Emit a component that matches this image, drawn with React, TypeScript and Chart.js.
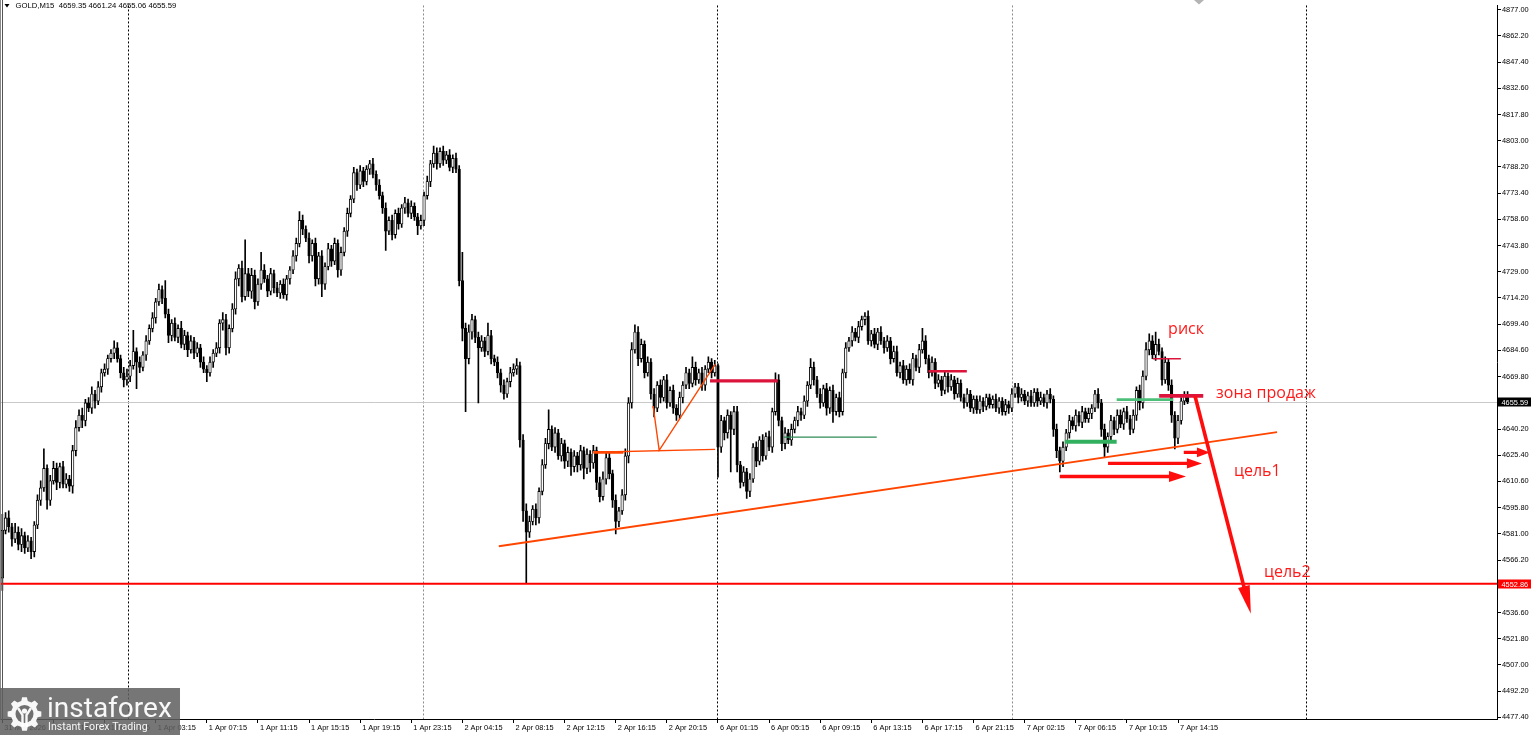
import { useEffect, useRef } from "react";
import { Chart, registerables } from "chart.js";

Chart.register(...registerables);

// ---------------- DATA ----------------
const SYMBOL_HEADER = "GOLD,M15  4659.35 4661.24 4655.06 4655.59";
const FIRST_OPEN = 4556;

// close of every M15 bar
const closes: number[] = [
  4583, 4590, 4585, 4578, 4582, 4575, 4580, 4573, 4577, 4571,
  4586, 4600, 4607, 4618, 4600, 4611, 4618, 4610, 4619, 4609,
  4612, 4608, 4628, 4641, 4648, 4645, 4655, 4652, 4660, 4656,
  4664, 4672, 4674, 4680, 4683, 4686, 4680, 4672, 4668, 4670,
  4676, 4684, 4678, 4675, 4682, 4690, 4697, 4703, 4712, 4719,
  4714, 4705, 4693, 4700, 4692, 4697, 4688, 4693, 4685, 4690,
  4683, 4686, 4678, 4674, 4672, 4678, 4683, 4686, 4700, 4702,
  4686, 4697, 4708, 4725, 4731, 4715, 4728, 4718, 4727, 4712,
  4722, 4730, 4725, 4718, 4728, 4720, 4717, 4722, 4716, 4725,
  4730, 4738, 4745, 4758, 4753, 4748, 4738, 4745, 4725, 4738,
  4722, 4732, 4742, 4735, 4745, 4730, 4740, 4752, 4762, 4770,
  4785, 4778, 4786, 4780, 4787, 4790, 4784, 4778, 4772, 4765,
  4752, 4758, 4750, 4762, 4756, 4765, 4768, 4762, 4766, 4760,
  4755, 4758, 4772, 4780, 4790, 4796, 4790, 4797, 4792, 4795,
  4788, 4793, 4787, 4724, 4697, 4680, 4695, 4702, 4692, 4686,
  4690, 4684, 4693, 4680, 4678, 4672, 4665, 4660, 4667, 4672,
  4674, 4676, 4634, 4594, 4582, 4588, 4595, 4590, 4605, 4620,
  4632, 4640, 4630, 4638, 4625, 4632, 4622, 4627, 4619, 4625,
  4620, 4628, 4618, 4626, 4621, 4628, 4610, 4602, 4612, 4624,
  4615, 4600, 4588, 4594, 4603, 4625, 4655, 4685, 4695, 4680,
  4688, 4672, 4678, 4660, 4652, 4665, 4658, 4668, 4655, 4662,
  4652, 4648, 4658, 4665, 4672, 4666, 4675, 4668, 4672, 4665,
  4674, 4678, 4672, 4676, 4630, 4645, 4638, 4648, 4640, 4650,
  4620, 4610, 4616, 4605, 4612, 4630, 4622, 4634, 4625, 4636,
  4630, 4650, 4668, 4645, 4632, 4638, 4634, 4640, 4645, 4650,
  4648, 4656, 4665, 4675, 4668, 4660, 4655, 4663, 4652, 4662,
  4650, 4658, 4650, 4672, 4686, 4690, 4695, 4692, 4698, 4702,
  4704, 4690, 4694, 4688, 4695, 4690, 4686, 4690, 4680, 4684,
  4672, 4676, 4668, 4674, 4668, 4680, 4675, 4685, 4690, 4680,
  4672, 4678, 4666, 4668, 4662, 4670, 4664, 4668, 4660, 4666,
  4658, 4655, 4660, 4652, 4657, 4651, 4656, 4653, 4658, 4654,
  4657, 4652, 4656, 4650, 4654, 4652, 4660, 4664, 4658, 4660,
  4656, 4659, 4655, 4661, 4656, 4658, 4655, 4660, 4657, 4640,
  4628, 4622, 4630, 4638, 4645, 4642, 4648, 4644, 4650, 4646,
  4649, 4652, 4660, 4655, 4640, 4630, 4636, 4645, 4640, 4648,
  4643, 4650, 4646, 4640, 4648, 4662, 4655, 4670, 4685, 4690,
  4682, 4688, 4684, 4668, 4678, 4665, 4648, 4635, 4645, 4656,
  4659.35, 4655.59,
];

// upper / lower wick length of each bar in dollars (base-36 digit per bar)
const upperWicks = [
  "9342534232", "234b234323", "3234342342", "3232243234", "3c23232323",
  "2a32324323", "2323232324", "323424j343", "3a32323232", "2335323232",
  "3232323232", "3232223232", "3232323232", "2323243232", "3232g34323",
  "3273232323", "3423432323", "3b23232323", "2323232343", "3232343443",
  "3232323232", "3232326323", "2323132323", "3232323232", "3243232323",
  "2325323232", "3232323232", "2323232323", "3232332373", "2323232323",
  "2232223222", "2322323223", "2232232232", "3232323232", "3223232323",
  "3232323344", "3732323232", "22",
].join("");
const lowerWicks = [
  "7234234324", "3232532432", "2343243234", "2323232343", "32f3232232",
  "3243232342", "3232523234", "4323432344", "2323232323", "3232324343",
  "7323243232", "2323232323", "b232323232", "5232323232", "23237u343v",
  "2323234323", "2346t32432", "2323234353", "4363534323", "3473234324",
  "2323523232", "3323232323", "3232h343o3", "4324323232", "2323432323",
  "3232323243", "6232323232", "3232323232", "2323232323", "3232323232",
  "2322322322", "2232232232", "2322322324", "4632323232", "2323463232",
  "2323234323", "2323234632", "21",
].join("");

// time axis labels (every 16 bars)
const labelBars = [0, 16, 32, 48, 64, 80, 96, 112, 128, 144, 160, 176, 192, 208, 224, 240, 256, 272, 288, 304, 320, 336, 352, 368];
const timeLabels = [
  "31 Mar 2026", "31 Mar 18:15", "31 Mar 22:15", "1 Apr 03:15", "1 Apr 07:15", "1 Apr 11:15",
  "1 Apr 15:15", "1 Apr 19:15", "1 Apr 23:15", "2 Apr 04:15", "2 Apr 08:15", "2 Apr 12:15",
  "2 Apr 16:15", "2 Apr 20:15", "6 Apr 01:15", "6 Apr 05:15", "6 Apr 09:15", "6 Apr 13:15",
  "6 Apr 17:15", "6 Apr 21:15", "7 Apr 02:15", "7 Apr 06:15", "7 Apr 10:15", "7 Apr 14:15",
];

// price axis labels
const priceTicks = [
  4877.0, 4862.2, 4847.4, 4832.6, 4817.8, 4803.0, 4788.2, 4773.4, 4758.6, 4743.8,
  4729.0, 4714.2, 4699.4, 4684.6, 4669.8, 4655.0, 4640.2, 4625.4, 4610.6, 4595.8,
  4581.0, 4566.2, 4551.4, 4536.6, 4521.8, 4507.0, 4492.2, 4477.4,
];

// day separators (bar position)
const daySeparators = [39.3, 131.6, 223.7, 315.9, 408.1];

const LAST_PRICE = 4655.59;
const SUPPORT_PRICE = 4552.86;

// drawn objects, in [bar, price]
const trendLine = [[155.4, 4574.0], [399.0, 4638.4]];
const rangeLine = [[185.0, 4627.1], [223.1, 4628.7]];
const rangeLineBold = [[185.0, 4627.0], [194.4, 4627.0]];
const vLine = [[203.7, 4653.2], [205.6, 4628.2], [223.1, 4676.7]];
// [fromBar, toBar, price]
const crimsonLevels = [[221.5, 242.7, 4667.4], [289.9, 301.9, 4672.8], [360.1, 368.9, 4679.9], [362.1, 375.9, 4658.9]];
const greenLevels = [[244.5, 273.7, 4635.6], [332.6, 348.8, 4633.0], [348.8, 366.5, 4656.8]];
// [fromBar, fromPrice, toBar, toPrice]
const smallArrows = [[369.8, 4627.0, 378.0, 4627.0], [346.1, 4620.8, 375.5, 4620.8], [331.0, 4613.4, 370.5, 4613.4]];
const bigArrow = [373.3, 4659.0, 390.8, 4535.9];
// [text, bar, price(baseline)]
const notes: [string, number, number][] = [
  ["риск", 364.9, 4693.6],
  ["зона продаж", 379.9, 4657.8],
  ["цель1", 385.5, 4613.4],
  ["цель2", 394.9, 4556.4],
];

// scale bounds
const X_MIN = -0.736;
const X_MAX = 467.85;
const Y_MIN = 4476.45;
const Y_MAX = 4879.41;

// ---------------- derived OHLC ----------------
const opens = closes.map((c, i) => (i === 0 ? FIRST_OPEN : closes[i - 1]));
const highs = closes.map((c, i) => Math.max(opens[i], c) + parseInt(upperWicks[i], 36));
const lows = closes.map((c, i) => Math.min(opens[i], c) - parseInt(lowerWicks[i], 36));

const AXIS_FAMILY = "'Liberation Sans', Arial, sans-serif";
const AXIS_SIZE = 7.4;

function drawArrow(ctx: CanvasRenderingContext2D, x1: number, y1: number, x2: number, y2: number, w: number, headLen: number, headHalf: number, color: string) {
  const ang = Math.atan2(y2 - y1, x2 - x1);
  const bx = x2 - headLen * Math.cos(ang);
  const by = y2 - headLen * Math.sin(ang);
  ctx.strokeStyle = color;
  ctx.fillStyle = color;
  ctx.lineWidth = w;
  ctx.lineCap = "butt";
  ctx.beginPath();
  ctx.moveTo(x1, y1);
  ctx.lineTo(bx + 2 * Math.cos(ang), by + 2 * Math.sin(ang));
  ctx.stroke();
  ctx.beginPath();
  ctx.moveTo(x2, y2);
  ctx.lineTo(bx + headHalf * Math.sin(ang), by - headHalf * Math.cos(ang));
  ctx.lineTo(bx - headHalf * Math.sin(ang), by + headHalf * Math.cos(ang));
  ctx.closePath();
  ctx.fill();
}

function drawGear(ctx: CanvasRenderingContext2D, cx: number, cy: number) {
  const teeth = 8;
  const rO = 17;
  const rI = 13.5;
  ctx.beginPath();
  for (let k = 0; k < teeth; k++) {
    const a0 = (k / teeth) * Math.PI * 2;
    const w = Math.PI / teeth;
    const pts = [
      [rI, a0 - w * 0.62],
      [rO, a0 - w * 0.36],
      [rO, a0 + w * 0.36],
      [rI, a0 + w * 0.62],
    ];
    pts.forEach(([r, a], j) => {
      const px = cx + r * Math.cos(a);
      const py = cy + r * Math.sin(a);
      if (k === 0 && j === 0) ctx.moveTo(px, py);
      else ctx.lineTo(px, py);
    });
  }
  ctx.closePath();
  ctx.fillStyle = "rgba(255,255,255,0.95)";
  ctx.fill();
  ctx.beginPath();
  ctx.arc(cx, cy, 9, 0, Math.PI * 2);
  ctx.fillStyle = "rgb(112,112,112)";
  ctx.fill();
  // figure inside
  ctx.fillStyle = "rgba(255,255,255,0.95)";
  ctx.strokeStyle = "rgba(255,255,255,0.95)";
  ctx.beginPath();
  ctx.arc(cx, cy - 3, 2.6, 0, Math.PI * 2);
  ctx.fill();
  ctx.lineWidth = 2.4;
  ctx.beginPath();
  ctx.moveTo(cx - 6.5, cy - 6);
  ctx.lineTo(cx - 2, cy + 1);
  ctx.lineTo(cx - 2, cy + 13);
  ctx.moveTo(cx + 6.5, cy - 6);
  ctx.lineTo(cx + 2, cy + 1);
  ctx.lineTo(cx + 2, cy + 13);
  ctx.stroke();
}

const overlayPlugin = {
  id: "mtOverlay",
  beforeDatasetsDraw(chart: any) {
    const { ctx, chartArea: a, scales } = chart;
    const x = scales.x;
    const y = scales.y;
    ctx.save();
    ctx.lineWidth = 1;
    daySeparators.forEach((d, k) => {
      const px = Math.round(x.getPixelForValue(d)) + 0.5;
      ctx.strokeStyle = k % 2 ? "#8c8c8c" : "#000000";
      ctx.setLineDash([2, 2]);
      ctx.beginPath();
      ctx.moveTo(px, a.top);
      ctx.lineTo(px, a.bottom);
      ctx.stroke();
    });
    ctx.setLineDash([]);
    const ly = Math.round(y.getPixelForValue(LAST_PRICE)) + 0.5;
    ctx.strokeStyle = "#c8c8c8";
    ctx.beginPath();
    ctx.moveTo(a.left, ly);
    ctx.lineTo(a.right, ly);
    ctx.stroke();
    ctx.restore();
  },
  afterDatasetsDraw(chart: any) {
    const { ctx, chartArea: a, scales } = chart;
    const x = scales.x;
    const y = scales.y;
    const X = (v: number) => x.getPixelForValue(v);
    const Y = (v: number) => y.getPixelForValue(v);
    ctx.save();
    ctx.beginPath();
    ctx.rect(a.left, a.top, a.right - a.left, a.bottom - a.top);
    ctx.clip();

    // support level
    const sy = Y(SUPPORT_PRICE);
    ctx.strokeStyle = "#ff0000";
    ctx.lineWidth = 2;
    ctx.beginPath();
    ctx.moveTo(a.left, sy);
    ctx.lineTo(a.right, sy);
    ctx.stroke();

    // orange-red lines
    const poly = (pts: number[][], w: number, color: string) => {
      ctx.strokeStyle = color;
      ctx.lineWidth = w;
      ctx.lineJoin = "miter";
      ctx.beginPath();
      pts.forEach(([b, p], j) => (j ? ctx.lineTo(X(b), Y(p)) : ctx.moveTo(X(b), Y(p))));
      ctx.stroke();
    };
    poly(trendLine, 1.8, "#ff4500");
    poly(rangeLine, 1.4, "#ff4500");
    poly(rangeLineBold, 2.6, "#ff4500");
    poly(vLine, 1.4, "#ff4500");

    const crimsonWidths = [3.3, 2.6, 1.4, 3.6];
    crimsonLevels.forEach(([b1, b2, p], k) => {
      ctx.strokeStyle = "#dc143c";
      ctx.lineWidth = crimsonWidths[k];
      ctx.beginPath();
      ctx.moveTo(X(b1), Y(p));
      ctx.lineTo(X(b2), Y(p));
      ctx.stroke();
    });
    const greenWidths = [1.2, 4, 2.6];
    const greenColors = ["#2e8b57", "#32b060", "#4cbf78"];
    greenLevels.forEach(([b1, b2, p], k) => {
      ctx.strokeStyle = greenColors[k];
      ctx.lineWidth = greenWidths[k];
      ctx.beginPath();
      ctx.moveTo(X(b1), Y(p));
      ctx.lineTo(X(b2), Y(p));
      ctx.stroke();
    });

    // arrows
    const heads = [[13, 4.8], [15, 5.2], [17, 5.6]];
    smallArrows.forEach(([b1, p1, b2, p2], k) => {
      drawArrow(ctx, X(b1), Y(p1), X(b2), Y(p2), 3.4, heads[k][0], heads[k][1], "#ff0d0d");
    });
    drawArrow(ctx, X(bigArrow[0]), Y(bigArrow[1]), X(bigArrow[2]), Y(bigArrow[3]), 3.6, 28, 6, "#ff0d0d");

    // notes
    ctx.fillStyle = "#ff1a1a";
    ctx.font = "16px 'Open Sans', 'Noto Sans', sans-serif";
    ctx.textAlign = "left";
    ctx.textBaseline = "alphabetic";
    notes.forEach(([t, b, p]) => ctx.fillText(t, X(b), Y(p)));
    ctx.restore();

    // price boxes on the axis
    ctx.save();
    ctx.font = `${AXIS_SIZE}px ${AXIS_FAMILY}`;
    ctx.textBaseline = "middle";
    ctx.textAlign = "left";
    const box = (price: number, bg: string) => {
      const py = Math.round(Y(price));
      ctx.fillStyle = bg;
      ctx.fillRect(a.right + 1, py - 4.5, 1531 - a.right - 1, 9);
      ctx.fillStyle = "#ffffff";
      ctx.fillText(price.toFixed(2), a.right + 4.5, py + 0.5);
    };
    box(LAST_PRICE, "#000000");
    box(SUPPORT_PRICE, "#ff0000");
    ctx.restore();
  },
  afterDraw(chart: any) {
    const { ctx, chartArea: a } = chart;
    ctx.save();
    // left frame lines
    ctx.lineWidth = 1;
    ctx.strokeStyle = "#8a8a8a";
    ctx.beginPath();
    ctx.moveTo(0.5, 0);
    ctx.lineTo(0.5, a.bottom + 1);
    ctx.stroke();
    ctx.strokeStyle = "#555555";
    ctx.beginPath();
    ctx.moveTo(2.5, 0);
    ctx.lineTo(2.5, a.bottom + 1);
    ctx.stroke();

    // header
    ctx.fillStyle = "#000";
    ctx.beginPath();
    ctx.moveTo(4.5, 4);
    ctx.lineTo(9.5, 4);
    ctx.lineTo(7, 7.5);
    ctx.closePath();
    ctx.fill();
    ctx.font = `${AXIS_SIZE + 0.3}px ${AXIS_FAMILY}`;
    ctx.textBaseline = "middle";
    ctx.textAlign = "left";
    ctx.fillText(SYMBOL_HEADER, 15.5, 6);

    // chart shift marker
    ctx.fillStyle = "#b4b4b4";
    ctx.beginPath();
    ctx.moveTo(1194, 0);
    ctx.lineTo(1204, 0);
    ctx.lineTo(1199, 4.5);
    ctx.closePath();
    ctx.fill();

    // watermark
    ctx.fillStyle = "rgba(96,96,96,0.86)";
    ctx.fillRect(0, 688, 180, 47);
    drawGear(ctx, 24.5, 714);
    ctx.fillStyle = "rgba(255,255,255,0.95)";
    ctx.textBaseline = "alphabetic";
    ctx.font = "28px Roboto, 'Open Sans', sans-serif";
    ctx.fillText("instaforex", 47, 717);
    ctx.font = "10.6px Roboto, 'Open Sans', sans-serif";
    ctx.fillText("Instant Forex Trading", 48, 729.5);
    ctx.restore();
  },
};

export default function App() {
  const ref = useRef<HTMLCanvasElement | null>(null);

  useEffect(() => {
    const canvas = ref.current;
    if (!canvas) return;
    const bodyData = closes.map((c, i) => ({ x: i, y: [opens[i], c] }));
    const wickData = closes.map((c, i) => ({ x: i, y: [lows[i], highs[i]] }));
    const chart = new Chart(canvas, {
      type: "bar",
      data: {
        datasets: [
          {
            label: "body",
            data: bodyData as any,
            barThickness: 2.6,
            grouped: false,
            order: 0,
            backgroundColor: closes.map((c, i) => (c >= opens[i] ? "#ffffff" : "#000000")),
            borderColor: "#000000",
            borderWidth: 0.9,
            borderSkipped: false,
          } as any,
          {
            label: "wick",
            data: wickData as any,
            barThickness: 1,
            grouped: false,
            order: 1,
            backgroundColor: "#000000",
            borderWidth: 0,
          } as any,
        ],
      },
      options: {
        responsive: false,
        maintainAspectRatio: false,
        devicePixelRatio: 1,
        animation: false,
        events: [],
        layout: { padding: 0 },
        plugins: { legend: { display: false }, tooltip: { enabled: false } },
        scales: {
          x: {
            type: "linear",
            position: "bottom",
            min: X_MIN,
            max: X_MAX,
            offset: false,
            afterBuildTicks: (s: any) => {
              s.ticks = labelBars.map((v) => ({ value: v }));
            },
            afterFit: (s: any) => {
              s.height = 16;
              s.paddingLeft = 0;
              s.paddingRight = 0;
            },
            ticks: {
              autoSkip: false,
              maxRotation: 0,
              minRotation: 0,
              align: "start",
              padding: 1,
              labelOffset: 2,
              color: "#000000",
              font: { family: AXIS_FAMILY, size: AXIS_SIZE },
              callback: (_v: any, idx: number) => timeLabels[idx] ?? "",
            },
            grid: { display: true, drawOnChartArea: false, drawTicks: true, tickLength: 4, color: "#000000", offset: false },
            border: { display: true, color: "#000000", width: 1 },
          } as any,
          y: {
            type: "linear",
            position: "right",
            min: Y_MIN,
            max: Y_MAX,
            afterBuildTicks: (s: any) => {
              s.ticks = priceTicks.map((v) => ({ value: v }));
            },
            afterFit: (s: any) => {
              s.width = 34;
            },
            ticks: {
              autoSkip: false,
              padding: 1,
              color: "#000000",
              font: { family: AXIS_FAMILY, size: AXIS_SIZE },
              callback: (v: any) => Number(v).toFixed(2),
            },
            grid: { display: true, drawOnChartArea: false, drawTicks: true, tickLength: 4, color: "#000000" },
            border: { display: true, color: "#000000", width: 1 },
          } as any,
        },
      },
      plugins: [overlayPlugin as any],
    });
    return () => chart.destroy();
  }, []);

  return (
    <div style={{ position: "absolute", left: 0, top: 0, width: 1531, height: 735, background: "#ffffff" }}>
      <canvas ref={ref} width={1531} height={735} style={{ display: "block", width: 1531, height: 735 }} />
    </div>
  );
}
